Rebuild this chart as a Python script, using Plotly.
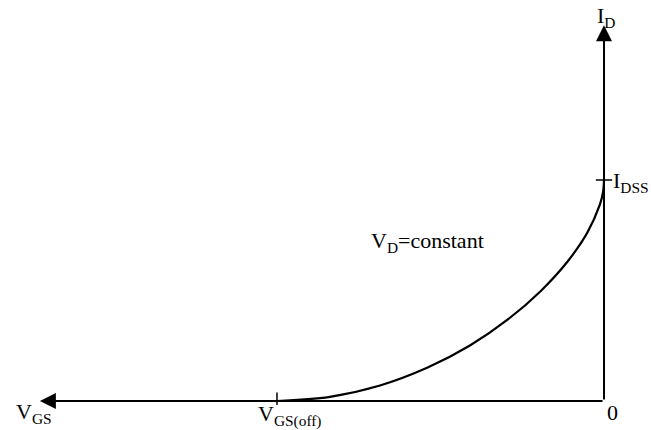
import plotly.graph_objects as go

# Normalised JFET transfer characteristic: V_GS in units of |V_GS(off)|, I_D in units of I_DSS
vgs = [-1.0, -0.838, -0.685, -0.541, -0.410, -0.294, -0.194, -0.112, -0.051, -0.013, -0.003, 0.0]
i_d = [0.0, 0.019, 0.070, 0.150, 0.251, 0.369, 0.497, 0.630, 0.762, 0.887, 0.945, 1.0]

vgs_off = -1.0
i_dss = 1.0
x_axis_end = -1.725   # left end of the V_GS axis arrow
y_axis_end = 1.70     # top end of the I_D axis arrow

FONT = "Liberation Serif, Times New Roman, serif"
W, H = 651, 430
x_range = [-1.847, 0.1437]
y_range = [-0.1312, 1.8145]

fig = go.Figure()

fig.add_trace(go.Scatter(
    x=vgs, y=i_d, mode="lines",
    line=dict(color="black", width=2.2, shape="spline", smoothing=1.0),
    hoverinfo="skip", showlegend=False,
))

# Axes drawn as arrows
fig.add_annotation(x=x_axis_end, y=0, ax=0, ay=0, xref="x", yref="y", axref="x", ayref="y",
                   showarrow=True, arrowhead=2, arrowsize=1.6, arrowwidth=2, arrowcolor="black", text="")
fig.add_annotation(x=0, y=y_axis_end, ax=0, ay=0, xref="x", yref="y", axref="x", ayref="y",
                   showarrow=True, arrowhead=2, arrowsize=1.6, arrowwidth=2, arrowcolor="black", text="")

# Tick marks
fig.add_shape(type="line", x0=vgs_off, x1=vgs_off, y0=-0.018, y1=0.038,
              line=dict(color="black", width=1.5))
fig.add_shape(type="line", x0=-0.025, x1=0.025, y0=i_dss, y1=i_dss,
              line=dict(color="black", width=1.5))

def label(text, x, y, xanchor="left", yanchor="middle", xshift=0, yshift=0, size=22):
    fig.add_annotation(x=x, y=y, xref="x", yref="y", text=text, showarrow=False,
                       xanchor=xanchor, yanchor=yanchor, xshift=xshift, yshift=yshift,
                       font=dict(family=FONT, size=size, color="black"))

label("V<sub>GS</sub>", x_axis_end, 0, xanchor="right", yshift=-12, xshift=14)
label("V<sub>GS(off)</sub>", vgs_off, 0, xanchor="left", yshift=-14, xshift=-21)
label("0", 0, 0, xanchor="left", yshift=-11, xshift=1)
label("I<sub>D</sub>", 0, y_axis_end, xanchor="left", yshift=8, xshift=-9)
label("I<sub>DSS</sub>", 0, i_dss, xanchor="left", yshift=-2, xshift=7)
label("V<sub>D</sub>=constant", -0.72, 0.72, xanchor="left")

fig.update_xaxes(visible=False, range=x_range, fixedrange=True)
fig.update_yaxes(visible=False, range=y_range, fixedrange=True)
fig.update_layout(
    width=W, height=H,
    margin=dict(l=0, r=0, t=0, b=0),
    plot_bgcolor="white", paper_bgcolor="white",
    showlegend=False,
)

fig.write_html("out.html")
